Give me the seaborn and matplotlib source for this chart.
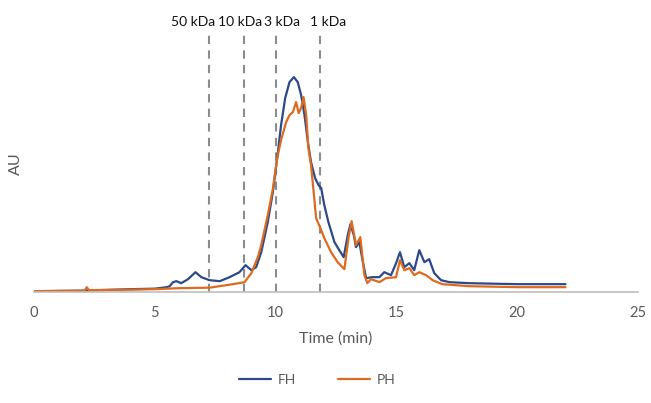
import numpy as np
import pandas as pd
import matplotlib
matplotlib.use("Agg")
import matplotlib.pyplot as plt
import seaborn as sns

# Chromatogram traces (time in min, arbitrary absorbance units)
fh_time = [0, 2, 4, 5, 5.5, 5.62, 5.76, 5.9, 6.1, 6.38, 6.69, 6.93, 7.27, 7.69, 8.1,
           8.51, 8.76, 9.0, 9.2, 9.41, 9.68, 9.89, 10.07, 10.23, 10.4, 10.58, 10.76,
           10.92, 11.06, 11.2, 11.34, 11.47, 11.64, 11.78, 11.89, 12.02, 12.19, 12.44,
           12.64, 12.82, 12.99, 13.1, 13.24, 13.33, 13.47, 13.6, 13.75, 14.0, 14.3,
           14.5, 14.78, 14.99, 15.15, 15.33, 15.54, 15.74, 15.95, 16.16, 16.36, 16.57,
           16.85, 17.2, 18, 20, 22]
fh_au = [1, 1.5, 3, 3.5, 5, 6, 10, 11, 9, 13, 20, 15, 12, 11, 15,
         20, 27, 22, 25, 40, 70, 100, 134, 167, 194, 210, 215,
         210, 197, 177, 150, 130, 114, 107, 104, 87, 70, 50,
         42, 35, 57, 68, 57, 45, 50, 32, 14, 15, 15,
         20, 17, 29, 40, 25, 29, 22, 42, 30, 33, 19,
         12, 10, 9, 8, 8]

ph_time = [0, 2.1, 2.19, 2.28, 4, 5, 6, 7.27, 8.24, 8.72, 9.0, 9.27, 9.41, 9.68, 9.89,
           10.07, 10.23, 10.44, 10.58, 10.72, 10.85, 10.96, 11.06, 11.16, 11.27, 11.36,
           11.47, 11.58, 11.68, 11.86, 12.02, 12.3, 12.57, 12.85, 13.02, 13.15, 13.33,
           13.51, 13.68, 13.8, 13.95, 14.3, 14.57, 14.99, 15.15, 15.33, 15.54, 15.74,
           15.95, 16.23, 16.5, 16.9, 18, 20, 22]
ph_au = [1, 1.5, 5, 2, 2.5, 3, 4, 4.5, 8, 10, 19, 35, 47, 77, 103,
         134, 152, 170, 177, 180, 190, 179, 184, 195, 177, 144,
         127, 100, 74, 64, 54, 40, 30, 23, 54, 71, 47,
         55, 17, 9, 13, 10, 14, 15, 32, 22, 24, 17,
         20, 17, 12, 8, 6, 5, 5]

cutoffs = [7.23, 8.68, 10.04, 11.86]
cutoff_labels = ["50 kDa", "10 kDa", "3 kDa", "1 kDa"]
label_x = [6.58, 8.53, 10.25, 12.19]

df = pd.concat([
    pd.DataFrame({"Time (min)": fh_time, "AU": fh_au, "sample": "FH"}),
    pd.DataFrame({"Time (min)": ph_time, "AU": ph_au, "sample": "PH"}),
])

sns.set_style("white")
plt.rcParams["font.family"] = ["Lato", "DejaVu Sans"]

fig = plt.figure(figsize=(6.51, 4.03), dpi=100)
ax = fig.add_axes([0.052, 0.275, 0.928, 0.638])

sns.lineplot(data=df, x="Time (min)", y="AU", hue="sample",
             palette={"FH": "#2B4A8B", "PH": "#DD6A1F"},
             linewidth=1.6, sort=False, ax=ax, legend=True,
             solid_joinstyle="round")

for x in cutoffs:
    ax.axvline(x, color="#8C8C8C", linestyle=(0, (4, 3)), linewidth=1.5, zorder=0)
for x, lab in zip(label_x, cutoff_labels):
    ax.text(x, 1.052, lab, transform=ax.get_xaxis_transform(),
            ha="center", va="center", fontsize=10, color="#111111")

ax.set_xlim(0, 25)
ax.set_ylim(0, 257)
ax.set_xticks([0, 5, 10, 15, 20, 25])
ax.set_yticks([])
ax.tick_params(axis="x", length=0, labelsize=10.5, labelcolor="#595959", pad=10)
for side in ["top", "right", "left"]:
    ax.spines[side].set_visible(False)
ax.spines["bottom"].set_color("#BFBFBF")
ax.spines["bottom"].set_linewidth(1.2)

ax.set_xlabel("Time (min)", fontsize=11.5, color="#595959", labelpad=8)
ax.set_ylabel("AU", fontsize=11.5, color="#595959", labelpad=8)

ax.legend(loc="upper center", bbox_to_anchor=(0.487, 0.103),
          bbox_transform=fig.transFigure, ncol=2, frameon=False,
          fontsize=10, labelcolor="#595959", handlelength=2.3, handletextpad=0.5,
          columnspacing=3.0, title=None)

fig.savefig("out.png", dpi=100)
